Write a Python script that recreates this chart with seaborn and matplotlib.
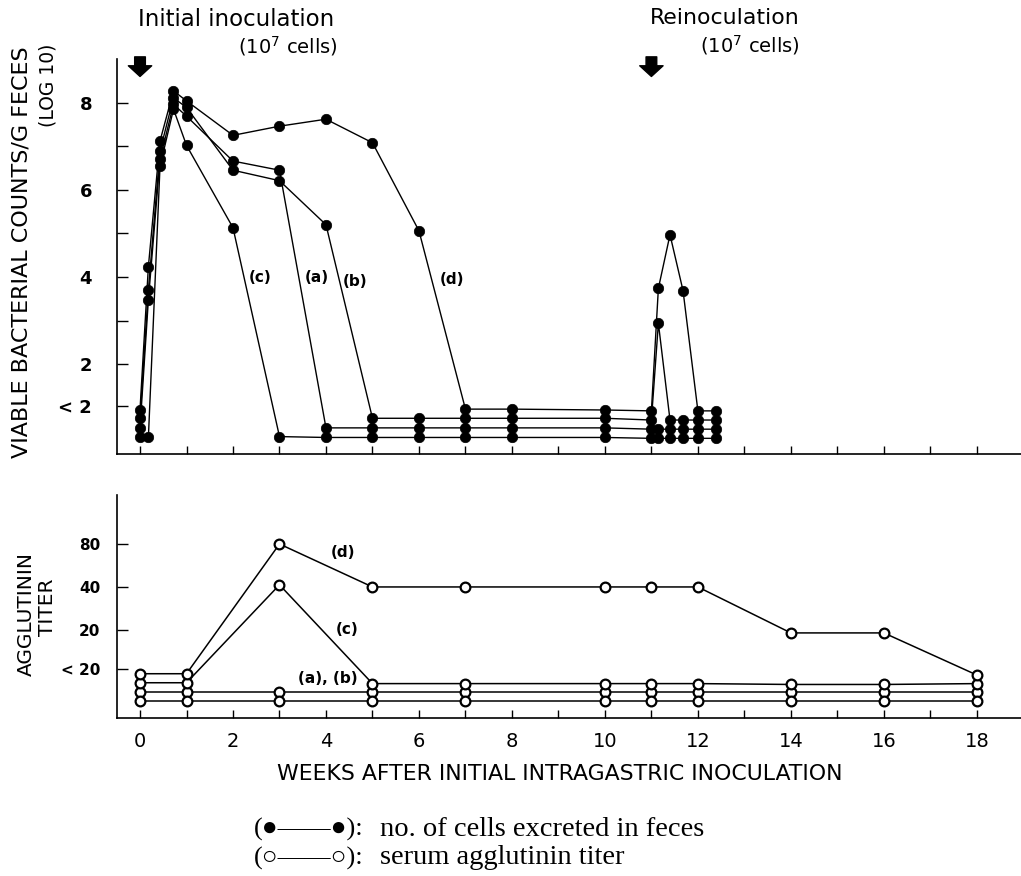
import matplotlib
matplotlib.use('Agg')
import matplotlib.pyplot as plt
import seaborn as sns

# weeks after initial inoculation (top panel, viable counts log10)
weeks = [0, 0.18, 0.43, 0.72, 1, 2, 3, 4, 5, 6, 7, 8, 10, 11, 11.15, 11.4, 11.68, 12, 12.4]
# "< 2" values are drawn stacked just under the "< 2" tick
count_a = [0.54, 3.48, 6.70, 7.96, 7.69, 6.66, 6.45, 0.54, 0.54, 0.54, 0.54, 0.54, 0.54, 0.51, 0.51, 0.51, 0.51, 0.51, 0.51]
count_b = [0.76, 3.71, 6.89, 8.11, 7.89, 6.45, 6.21, 5.20, 0.76, 0.76, 0.76, 0.76, 0.76, 0.72, 2.94, 0.72, 0.72, 0.72, 0.72]
count_c = [0.32, 0.32, 6.54, 7.85, 7.02, 5.13, 0.34, 0.32, 0.32, 0.32, 0.32, 0.32, 0.32, 0.30, 0.30, 0.30, 0.30, 0.30, 0.30]
count_d = [0.96, 4.24, 7.12, 8.27, 8.04, 7.25, 7.46, 7.62, 7.08, 5.06, 0.97, 0.97, 0.95, 0.93, 3.74, 4.97, 3.69, 0.93, 0.93]

# bottom panel, agglutinin titer on a log2 scale (0=<20 ... 3=80), <20 drawn stacked
titer_weeks = [0, 1, 3, 5, 7, 10, 11, 12, 14, 16, 18]
titer_d = [-0.02, -0.02, 3.0, 2.0, 2.0, 2.0, 2.0, 2.0, 0.93, 0.93, -0.05]
titer_c = [-0.23, -0.23, 2.05, -0.25, -0.25, -0.25, -0.25, -0.25, -0.27, -0.27, -0.25]
titer_a = [-0.44] * 11
titer_b = [-0.65] * 11

count_ticks = [1.05, 2, 3, 4, 5, 6, 7, 8]
count_ticklabels = ['< 2', '2', '', '4', '', '6', '', '8']
titer_ticks = [0.1, 1, 2, 3]
titer_ticklabels = ['< 20', '20', '40', '80']

sns.set_style('ticks')
plt.rcParams['font.family'] = ['DejaVu Sans']
for key in ['text.color', 'axes.edgecolor', 'axes.labelcolor', 'xtick.color', 'ytick.color']:
    plt.rcParams[key] = 'black'

fig = plt.figure(figsize=(10.21, 8.76), dpi=100)
ax1 = fig.add_axes([0.1146, 0.4817, 0.8854, 0.4509])
ax2 = fig.add_axes([0.1146, 0.1804, 0.8854, 0.2545])

# top panel: filled circles
for y in [count_a, count_b, count_c, count_d]:
    sns.lineplot(x=weeks, y=y, ax=ax1, color='black', linewidth=1.0, marker='o',
                 markersize=7.5, markeredgecolor='black', markeredgewidth=0.5,
                 estimator=None, sort=False, legend=False)

# bottom panel: open circles
for y in [titer_a, titer_b, titer_c, titer_d]:
    sns.lineplot(x=titer_weeks, y=y, ax=ax2, color='black', linewidth=1.1, marker='o',
                 markersize=7, markerfacecolor='white', markeredgecolor='black',
                 markeredgewidth=1.6, estimator=None, sort=False, legend=False)

for ax in [ax1, ax2]:
    sns.despine(ax=ax)
    ax.set_xlim(-0.495, 18.95)
    ax.set_xticks(range(0, 19))
    ax.spines['left'].set_linewidth(1.2)
    ax.spines['bottom'].set_linewidth(1.2)
    ax.tick_params(axis='x', direction='in', length=6, width=1)
    ax.tick_params(axis='y', direction='in', length=8, width=1)
    ax.set_xlabel('')
    ax.set_ylabel('')

ax1.set_ylim(-0.06, 9.0)
ax1.set_xticklabels([])
ax1.set_yticks(count_ticks)
ax1.set_yticklabels(count_ticklabels, fontsize=13, fontweight='bold')
ax1.tick_params(axis='y', pad=18)

ax2.set_ylim(-1.05, 4.14)
ax2.set_xticklabels([str(w) if w % 2 == 0 else '' for w in range(0, 19)], fontsize=14)
ax2.tick_params(axis='x', pad=10)
ax2.set_yticks(titer_ticks)
ax2.set_yticklabels(titer_ticklabels, fontsize=11, fontweight='bold')
ax2.tick_params(axis='y', pad=12)

# inoculation arrows
for wk in [0, 11]:
    ax1.annotate('', xy=(wk, 8.6), xytext=(wk, 9.05), annotation_clip=False,
                 arrowprops=dict(arrowstyle='simple,head_length=0.55,head_width=1.2,tail_width=0.55',
                                 fc='black', ec='black', mutation_scale=14, shrinkA=0, shrinkB=0))

# series labels
lab = dict(fontsize=11, fontweight='bold', ha='center', va='center')
ax1.text(2.58, 4.0, '(c)', **lab)
ax1.text(3.8, 4.0, '(a)', **lab)
ax1.text(4.62, 3.9, '(b)', **lab)
ax1.text(6.7, 3.95, '(d)', **lab)
ax2.text(4.37, 2.81, '(d)', **lab)
ax2.text(4.45, 1.0, '(c)', **lab)
ax2.text(4.05, -0.14, '(a), (b)', **lab)

# header texts
fig.text(138 / 1021, 1 - 20 / 876, 'Initial inoculation', fontsize=16.5, ha='left', va='center')
fig.text(338 / 1021, 1 - 46 / 876, '(10$^7$ cells)', fontsize=14, ha='right', va='center')
fig.text(650 / 1021, 1 - 18 / 876, 'Reinoculation', fontsize=15.8, ha='left', va='center')
fig.text(800 / 1021, 1 - 45 / 876, '(10$^7$ cells)', fontsize=14, ha='right', va='center')

# axis titles
fig.text(22 / 1021, 1 - 252 / 876, 'VIABLE BACTERIAL COUNTS/G FECES', fontsize=16,
         rotation=90, ha='center', va='center')
fig.text(48 / 1021, 1 - 44 / 876, '(LOG 10)', fontsize=13.5, rotation=90, ha='center', va='top')
fig.text(26 / 1021, 1 - 614 / 876, 'AGGLUTININ', fontsize=14.5, rotation=90, ha='center', va='center')
fig.text(47 / 1021, 1 - 607 / 876, 'TITER', fontsize=14.5, rotation=90, ha='center', va='center')
fig.text(277 / 1021, 1 - 774 / 876, 'WEEKS AFTER INITIAL INTRAGASTRIC INOCULATION',
         fontsize=15.8, ha='left', va='center')

# key
key_font = ['Liberation Serif', 'DejaVu Sans']
fig.text(254 / 1021, 1 - 829 / 876, '(●——●):', fontsize=19, family=key_font, ha='left', va='center')
fig.text(380 / 1021, 1 - 829 / 876, 'no. of cells excreted in feces',
         fontsize=20.5, family=key_font, ha='left', va='center')
fig.text(254 / 1021, 1 - 858 / 876, '(○——○):', fontsize=19, family=key_font, ha='left', va='center')
fig.text(380 / 1021, 1 - 858 / 876, 'serum agglutinin titer',
         fontsize=20.5, family=key_font, ha='left', va='center')

plt.savefig('out.png', dpi=100)
